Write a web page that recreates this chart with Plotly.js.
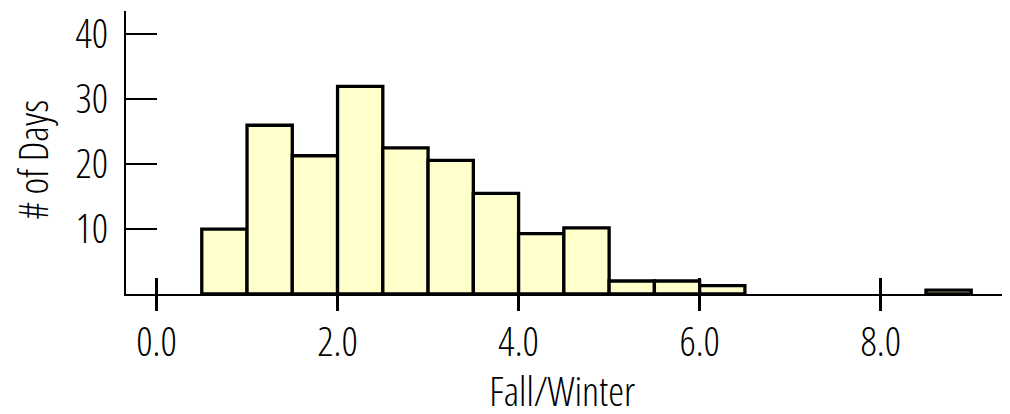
<!DOCTYPE html>
<html>
<head>
<meta charset="utf-8">
<script src="https://cdn.plot.ly/plotly-3.0.1.min.js"></script>
<style>
html,body{margin:0;padding:0;background:#fff;}
#chart{width:1010px;height:414px;}
#chart svg text{font-stretch:75% !important;}
</style>
</head>
<body>
<div id="chart"></div>
<script>
// Histogram bins (left edge of each 0.5-wide bin) and day counts
const binLeft = [0.5, 1.0, 1.5, 2.0, 2.5, 3.0, 3.5, 4.0, 4.5, 5.0, 5.5, 6.0, 8.5];
const dayCounts = [10, 26, 21.3, 32, 22.5, 20.6, 15.5, 9.3, 10.2, 2, 2, 1.3, 0.6];
const binWidth = 0.5;
const xTickVals = [0, 2, 4, 6, 8];
const xTickText = ["0.0", "2.0", "4.0", "6.0", "8.0"];
const yTickVals = [10, 20, 30, 40];
const yTickText = ["10", "20", "30", "40"];
const xTitle = 'Fall/Winter';
const yTitle = '# of Days';

const FONT = "'Open Sans', 'Liberation Sans', sans-serif";
const F = { family: FONT, size: 40, color: '#000', weight: 300 };

const trace = {
  type: 'bar',
  x: binLeft,
  y: dayCounts,
  width: binLeft.map(() => binWidth),
  offset: 0,
  marker: { color: '#ffffcc', line: { color: '#000000', width: 3.3 } },
  hoverinfo: 'x+y'
};

const xr = [-0.337, 9.34];
const layout = {
  width: 1010, height: 414,
  margin: { l: 126, r: 8, t: 11, b: 120, pad: 0 },
  paper_bgcolor: '#ffffff', plot_bgcolor: '#ffffff',
  showlegend: false,
  bargap: 0,
  font: F,
  xaxis: {
    range: xr, showgrid: false, zeroline: false,
    showline: true, linecolor: '#000', linewidth: 2,
    tickmode: 'array', tickvals: xTickVals, ticktext: xTickText,
    ticks: 'outside', ticklen: 12, tickwidth: 3, tickcolor: '#000',
    tickfont: F,
    ticklabelstandoff: 0
  },
  xaxis2: {
    range: xr, overlaying: 'x', anchor: 'y', side: 'bottom',
    showgrid: false, zeroline: false, showline: false,
    tickmode: 'array', tickvals: xTickVals, showticklabels: false,
    ticks: 'outside', ticklen: 16, tickwidth: 3, tickcolor: '#000'
  },
  xaxis3: {
    range: xr, overlaying: 'x', anchor: 'y', side: 'bottom',
    showgrid: false, zeroline: false, showline: false,
    tickmode: 'array', tickvals: xTickVals, showticklabels: false,
    ticks: 'inside', ticklen: 16, tickwidth: 3, tickcolor: '#000',
    layer: 'below traces'
  },
  yaxis: {
    range: [0, 43.6], showgrid: false, zeroline: false,
    showline: true, linecolor: '#000', linewidth: 2,
    tickmode: 'array', tickvals: yTickVals, ticktext: yTickText,
    ticks: 'inside', ticklen: 31, tickwidth: 2, tickcolor: '#000',
    tickfont: F,
    ticklabelstandoff: 8
  },
  annotations: [
    { text: xTitle, xref: 'paper', yref: 'paper', x: 0.5, y: 0,
      xanchor: 'center', yanchor: 'middle', xshift: -2, yshift: -96,
      showarrow: false, font: F },
    { text: yTitle, xref: 'paper', yref: 'paper', x: 0, y: 0,
      xanchor: 'center', yanchor: 'middle', xshift: -94, yshift: 134,
      textangle: -90, showarrow: false, font: F }
  ]
};

const dummy2 = { type: 'scatter', x: [0], y: [0], xaxis: 'x2', yaxis: 'y', mode: 'markers', marker: { opacity: 0 }, hoverinfo: 'skip' };
const dummy3 = { type: 'scatter', x: [0], y: [0], xaxis: 'x3', yaxis: 'y', mode: 'markers', marker: { opacity: 0 }, hoverinfo: 'skip' };

Plotly.newPlot('chart', [trace, dummy2, dummy3], layout, { displayModeBar: false, staticPlot: true });
</script>
</body>
</html>
